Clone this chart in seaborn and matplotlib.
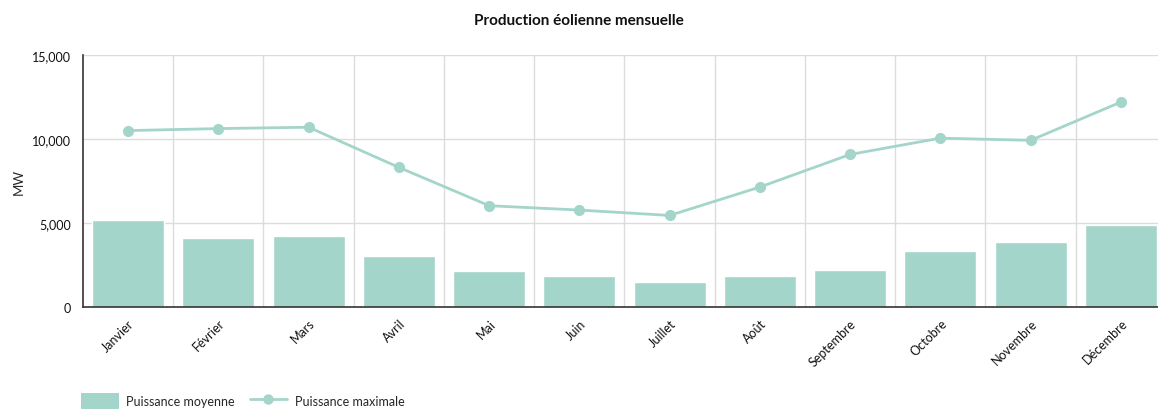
import numpy as np
import pandas as pd
import matplotlib
matplotlib.use("Agg")
import matplotlib.pyplot as plt
import seaborn as sns
from matplotlib.patches import Patch
from matplotlib.lines import Line2D
from matplotlib.ticker import FuncFormatter

months = ['Janvier', 'Février', 'Mars', 'Avril', 'Mai', 'Juin', 'Juillet',
          'Août', 'Septembre', 'Octobre', 'Novembre', 'Décembre']
puissance_moyenne = [5150, 4130, 4200, 3040, 2130, 1870, 1490, 1860, 2200, 3310, 3890, 4860]
puissance_maximale = [10500, 10620, 10700, 8310, 6030, 5770, 5450, 7140, 9080, 10050, 9920, 12200]

color = '#a3d5cb'

sns.set_theme(style='white')
plt.rcParams['font.family'] = ['Lato', 'DejaVu Sans']

df = pd.DataFrame({'month': months,
                   'moyenne': puissance_moyenne,
                   'maximale': puissance_maximale})

fig = plt.figure(figsize=(11.58, 4.10), dpi=100)
ax = fig.add_axes([83 / 1158, 102 / 410, 1083 / 1158, 252 / 410])

sns.barplot(data=df, x='month', y='moyenne', order=months, color=color,
            width=0.8, saturation=1, ax=ax, zorder=2)
sns.pointplot(data=df, x='month', y='maximale', order=months, color=color,
              markers='o', linestyles='-', markersize=6.5, linewidth=2,
              ax=ax, zorder=3)

ax.set_xlim(-0.5, 11.5)
ax.set_ylim(0, 15000)
ax.set_yticks([0, 5000, 10000, 15000])
ax.yaxis.set_major_formatter(FuncFormatter(lambda v, p: f'{int(v):,}'))

# gridlines: horizontal at ticks, vertical between categories
for y in [5000, 10000, 15000]:
    ax.axhline(y, color='#dcdcdc', lw=1, zorder=0)
for x in np.arange(0.5, 11.5, 1):
    ax.axvline(x, color='#dcdcdc', lw=1, zorder=0)

for side in ['top', 'right']:
    ax.spines[side].set_visible(False)
for side in ['left', 'bottom']:
    ax.spines[side].set_color('#333333')
    ax.spines[side].set_linewidth(1.2)

ax.tick_params(axis='both', which='both', direction='out', length=5,
               color='#333333', labelsize=9, labelcolor='#111111')
ax.tick_params(axis='x', pad=2)
plt.setp(ax.get_xticklabels(), rotation=45, ha='right', rotation_mode='anchor')

ax.set_xlabel('')
ax.set_ylabel('MW', fontsize=9.5)
ax.yaxis.set_label_coords(-0.054, 0.5)

fig.text(0.5, 1 - 21 / 410, 'Production éolienne mensuelle', ha='center',
         va='center', fontsize=11, fontweight='bold', color='#111111')

handles = [Patch(facecolor=color, edgecolor='none'),
           Line2D([0], [0], color=color, lw=2, marker='o', markersize=6.5)]
fig.legend(handles, ['Puissance moyenne', 'Puissance maximale'],
           loc='upper left', bbox_to_anchor=(81 / 1158, 1 - 394 / 410),
           ncol=2, frameon=False, fontsize=9, handlelength=3.0,
           handleheight=1.6, columnspacing=1.2, handletextpad=0.6,
           borderaxespad=0, borderpad=0)

fig.savefig('out.png', dpi=100)
